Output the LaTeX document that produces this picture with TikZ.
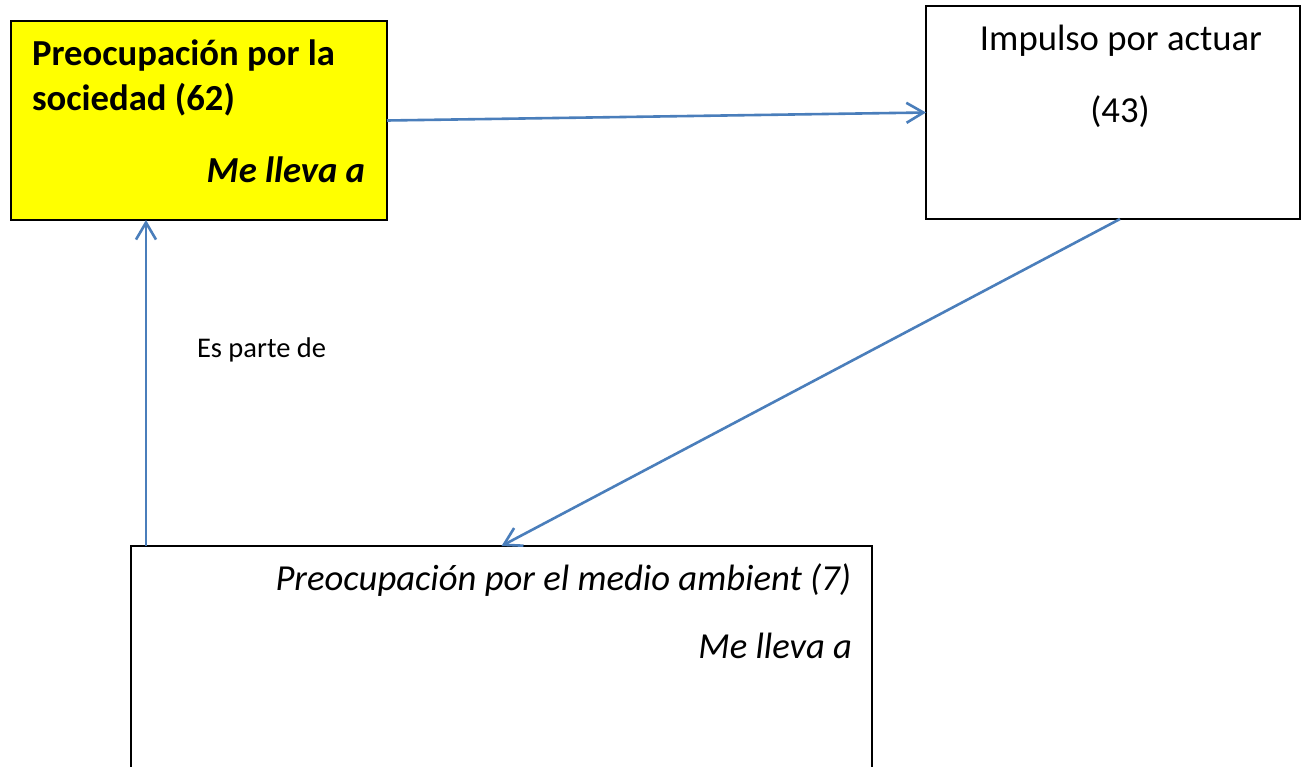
\documentclass[tikz,border=0pt]{standalone}
\usepackage{fontspec}
\setmainfont{Carlito}
\usetikzlibrary{arrows.meta}
\definecolor{arrblue}{RGB}{74,126,187}
\definecolor{boxyellow}{RGB}{255,255,0}
\begin{document}
\begin{tikzpicture}[x=1pt,y=-1pt,
  box/.style={draw=black,line width=2.6pt,inner sep=0pt,outer sep=0pt,anchor=north west},
  arr/.style={draw=arrblue,line width=2.6pt,-{Straight Barb[length=17pt,width=20pt,line width=2.6pt]}},
  txt/.style={inner sep=0pt,outer sep=0pt,font=\fontsize{36.67}{44}\selectfont},
  smalltxt/.style={inner sep=0pt,outer sep=0pt,font=\fontsize{28.5}{34}\selectfont},
  ]
\useasboundingbox (0,0) rectangle (1301,766);
\clip (0,0) rectangle (1301,766);
\fill[white] (0,0) rectangle (1301,766);
% boxes
\node[box,fill=boxyellow,minimum width=376pt,minimum height=199pt] (soc) at (11,21) {};
\node[box,fill=white,minimum width=374pt,minimum height=213pt] (imp) at (926,6) {};
\node[box,fill=white,minimum width=741pt,minimum height=250pt] (amb) at (131,546) {};
% texts
\node[txt,anchor=base west,font=\fontsize{36.67}{44}\selectfont\bfseries] (t1) at (32,65) {Preocupación por la};
\node[txt,anchor=base west,font=\fontsize{36.67}{44}\selectfont\bfseries] (t2) at (32,110) {sociedad (62)};
\node[txt,anchor=base east,font=\fontsize{36.67}{44}\selectfont\bfseries\itshape] (t3) at (365,182) {Me lleva a};
\node[txt,anchor=base] (t4) at (1121,50) {Impulso por actuar};
\node[txt,anchor=base] (t5) at (1120,122) {(43)};
\node[txt,anchor=base east,font=\fontsize{36.67}{44}\selectfont\itshape] (t6) at (851,590) {Preocupación por el medio ambient (7)};
\node[txt,anchor=base east,font=\fontsize{36.67}{44}\selectfont\itshape] (t7) at (852,658) {Me lleva a};
\node[smalltxt,anchor=base west] (lab) at (197,357) {Es parte de};
% connectors
\draw[arr] (soc.east) -- (imp.west);
\draw[arr] ([xshift=7pt]imp.south) -- (amb.north);
\coordinate (es) at ([xshift=15pt]amb.north west);
\draw[arr] (es) -- (es |- soc.south);
\end{tikzpicture}
\end{document}
